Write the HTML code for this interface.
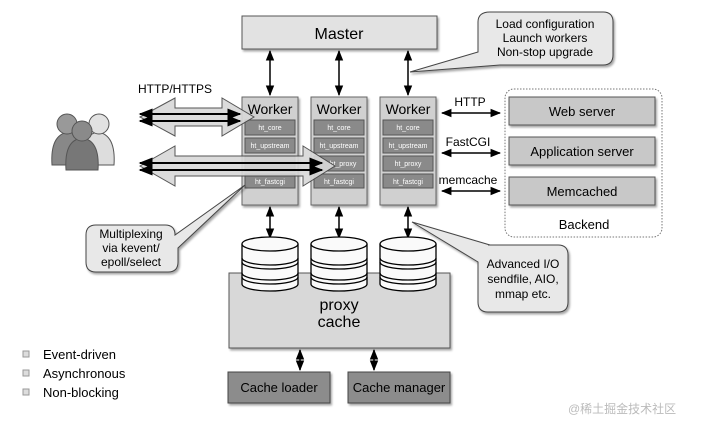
<!DOCTYPE html>
<html><head><meta charset="utf-8"><style>
body{margin:0;background:#fff;}
svg{display:block;font-family:"Liberation Sans","Noto Sans CJK SC",sans-serif;}
</style></head><body>
<svg width="716" height="430" viewBox="0 0 716 430" xmlns="http://www.w3.org/2000/svg">
<defs>
<marker id="a" viewBox="0 0 10 10" refX="9" refY="5" markerWidth="7" markerHeight="7" orient="auto-start-reverse"><path d="M0,1 L10,5 L0,9 z" fill="#000"/></marker>
<filter id="s" x="-10%" y="-10%" width="130%" height="140%"><feDropShadow dx="1.5" dy="2" stdDeviation="1" flood-color="#000" flood-opacity="0.35"/></filter>
</defs>

<!-- Master -->
<rect x="242" y="16" width="195" height="33" fill="#e2e2e2" stroke="#555" filter="url(#s)"/>
<text x="339" y="39" font-size="16" text-anchor="middle">Master</text>
<g stroke="#000" stroke-width="1.5" marker-start="url(#a)" marker-end="url(#a)">
<line x1="270" y1="51" x2="270" y2="95"/><line x1="339" y1="51" x2="339" y2="95"/><line x1="408" y1="51" x2="408" y2="95"/>
<line x1="270" y1="207" x2="270" y2="238"/><line x1="339" y1="207" x2="339" y2="238"/><line x1="408" y1="207" x2="408" y2="238"/>
<line x1="442" y1="113" x2="500" y2="113"/><line x1="442" y1="153" x2="500" y2="153"/><line x1="442" y1="191" x2="500" y2="191"/>
<line x1="300" y1="350" x2="300" y2="370"/><line x1="374" y1="350" x2="374" y2="370"/>
</g>

<!-- Workers -->
<g font-size="7" fill="#fff" text-anchor="middle">
<g>
<rect x="242" y="97" width="56" height="108" fill="#d0d0d0" stroke="#666" filter="url(#s)"/>
<rect x="245" y="120" width="50" height="15" fill="#8a8a8a" stroke="#555"/><text x="270" y="130">ht_core</text>
<rect x="245" y="138" width="50" height="15" fill="#8a8a8a" stroke="#555"/><text x="270" y="148">ht_upstream</text>
<rect x="245" y="156" width="50" height="15" fill="#8a8a8a" stroke="#555"/>
<rect x="245" y="174" width="50" height="14" fill="#8a8a8a" stroke="#555"/><text x="270" y="184">ht_fastcgi</text>
</g>
<g>
<rect x="311" y="97" width="56" height="108" fill="#d0d0d0" stroke="#666" filter="url(#s)"/>
<rect x="314" y="120" width="50" height="15" fill="#8a8a8a" stroke="#555"/><text x="339" y="130">ht_core</text>
<rect x="314" y="138" width="50" height="15" fill="#8a8a8a" stroke="#555"/><text x="339" y="148">ht_upstream</text>
<rect x="314" y="156" width="50" height="15" fill="#8a8a8a" stroke="#555"/><text x="343" y="166">ht_proxy</text>
<rect x="314" y="174" width="50" height="14" fill="#8a8a8a" stroke="#555"/><text x="339" y="184">ht_fastcgi</text>
</g>
<g>
<rect x="380" y="97" width="56" height="108" fill="#d0d0d0" stroke="#666" filter="url(#s)"/>
<rect x="383" y="120" width="50" height="15" fill="#8a8a8a" stroke="#555"/><text x="408" y="130">ht_core</text>
<rect x="383" y="138" width="50" height="15" fill="#8a8a8a" stroke="#555"/><text x="408" y="148">ht_upstream</text>
<rect x="383" y="156" width="50" height="15" fill="#8a8a8a" stroke="#555"/><text x="408" y="166">ht_proxy</text>
<rect x="383" y="174" width="50" height="14" fill="#8a8a8a" stroke="#555"/><text x="408" y="184">ht_fastcgi</text>
</g>
</g>
<g font-size="14" text-anchor="middle"><text x="270" y="114">Worker</text><text x="339" y="114">Worker</text><text x="408" y="114">Worker</text></g>

<!-- big hollow arrows -->
<path d="M140,117 L175,98 L175,108 L222,108 L222,98 L254,117 L222,136 L222,126 L175,126 L175,136 Z" fill="#d8d8d8" stroke="#444" opacity="0.9"/>
<path d="M140,166 L175,146 L175,156 L303,156 L303,146 L335,166 L303,186 L303,176 L175,176 L175,186 Z" fill="#d8d8d8" stroke="#444" opacity="0.9"/>
<g stroke="#000" stroke-width="2" marker-start="url(#a)" marker-end="url(#a)">
<line x1="140" y1="114" x2="240" y2="114"/><line x1="140" y1="121" x2="240" y2="121"/>
<line x1="140" y1="163" x2="322" y2="163"/><line x1="140" y1="170" x2="322" y2="170"/>
</g>
<text x="138" y="93" font-size="12">HTTP/HTTPS</text>

<!-- users -->
<g stroke="#555" stroke-width="1">
<path d="M52,165 Q50,135 68,132 Q86,135 84,165 Z" fill="#888"/>
<circle cx="67" cy="124" r="10" fill="#999"/>
<path d="M82,165 Q80,135 98,132 Q116,135 114,165 Z" fill="#ddd"/>
<circle cx="99" cy="124" r="10" fill="#e2e2e2"/>
<path d="M66,170 Q64,140 82,138 Q100,140 98,170 Z" fill="#777"/>
<circle cx="82" cy="131" r="10" fill="#8a8a8a"/>
</g>

<!-- callouts -->
<path d="M490,12 H603 Q613,12 613,22 V55 Q613,65 603,65 H500 L410,72 L478,52 V22 Q478,12 490,12 Z" fill="#e8e8e8" stroke="#444" filter="url(#s)"/>
<g font-size="12" text-anchor="middle"><text x="545" y="28">Load configuration</text><text x="545" y="42">Launch workers</text><text x="545" y="56">Non-stop upgrade</text></g>

<path d="M96,225 H165 Q175,225 175,235 L245,185 L178,248 V262 Q178,272 168,272 H96 Q86,272 86,262 V235 Q86,225 96,225 Z" fill="#e8e8e8" stroke="#444" filter="url(#s)"/>
<g font-size="12" text-anchor="middle"><text x="131" y="238">Multiplexing</text><text x="131" y="252">via kevent/</text><text x="131" y="266">epoll/select</text></g>

<path d="M488,245 H558 Q568,245 568,255 V302 Q568,312 558,312 H488 Q478,312 478,302 V262 L412,222 L490,245 Z" fill="#e8e8e8" stroke="#444" filter="url(#s)"/>
<g font-size="12" text-anchor="middle"><text x="523" y="268">Advanced I/O</text><text x="523" y="283">sendfile, AIO,</text><text x="523" y="298">mmap etc.</text></g>

<!-- backend -->
<rect x="505" y="89" width="157" height="148" rx="9" fill="#fff" stroke="#777" stroke-dasharray="1.5,1.5"/>
<g fill="#c8c8c8" stroke="#555" filter="url(#s)">
<rect x="509" y="97" width="146" height="28"/><rect x="509" y="137" width="146" height="28"/><rect x="509" y="177" width="146" height="28"/>
</g>
<g font-size="13" text-anchor="middle"><text x="582" y="116">Web server</text><text x="582" y="156">Application server</text><text x="582" y="196">Memcached</text><text x="584" y="229">Backend</text></g>
<g font-size="12" text-anchor="middle"><text x="470" y="106">HTTP</text><text x="468" y="146">FastCGI</text><text x="468" y="184">memcache</text></g>

<!-- proxy cache -->
<rect x="229" y="273" width="221" height="75" fill="#d8d8d8" stroke="#555" filter="url(#s)"/>
<g font-size="16" text-anchor="middle"><text x="339" y="310">proxy</text><text x="339" y="327">cache</text></g>
<g fill="#fafafa" stroke="#000" stroke-width="1.3">
<g id="cyl">
<path d="M242,244 V284 A28,7 0 0 0 298,284 V244" />
<ellipse cx="270" cy="244" rx="28" ry="7"/>
<path d="M242,258 A28,7 0 0 0 298,258 M242,262 A28,7 0 0 0 298,262 M242,273 A28,7 0 0 0 298,273 M242,277 A28,7 0 0 0 298,277" fill="none"/>
</g>
<use href="#cyl" x="69"/><use href="#cyl" x="138"/>
</g>

<!-- cache loader/manager -->
<g fill="#8c8c8c" stroke="#444" filter="url(#s)"><rect x="228" y="372" width="102" height="31"/><rect x="348" y="372" width="102" height="31"/></g>
<g font-size="13" text-anchor="middle"><text x="279" y="392">Cache loader</text><text x="399" y="392">Cache manager</text></g>

<!-- legend -->
<g fill="#ddd" stroke="#999"><rect x="23" y="351" width="6" height="6"/><rect x="23" y="370" width="6" height="6"/><rect x="23" y="389" width="6" height="6"/></g>
<g font-size="13"><text x="43" y="359">Event-driven</text><text x="43" y="378">Asynchronous</text><text x="43" y="397">Non-blocking</text></g>

<text x="568" y="413" font-size="12" fill="#bbb">@稀土掘金技术社区</text>
</svg>
</body></html>
